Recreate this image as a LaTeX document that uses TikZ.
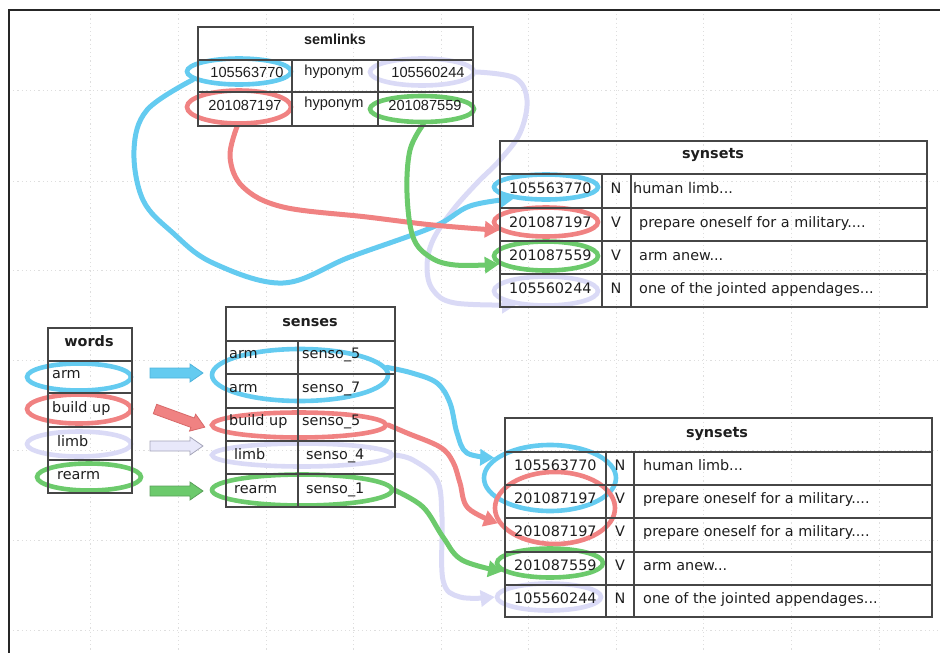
\documentclass[tikz,border=0pt]{standalone}
\usepackage{fontspec}
\setmainfont{DejaVu Sans}
\newfontfamily\arialf{Liberation Sans}
\usetikzlibrary{arrows.meta,shapes.geometric}
\definecolor{cy}{RGB}{100,203,240}
\definecolor{rd}{RGB}{240,130,130}
\definecolor{gr}{RGB}{108,202,108}
\definecolor{lv}{RGB}{218,218,246}
\definecolor{gridc}{RGB}{222,222,222}
\definecolor{tline}{RGB}{70,70,70}
\definecolor{txt}{RGB}{30,30,30}
\begin{document}
\begin{tikzpicture}[x=1pt,y=-1pt,
  every node/.style={font=\fontsize{14.4pt}{17pt}\selectfont, inner sep=0pt, text=txt},
  small/.style={font=\arialf\fontsize{14.6pt}{17pt}\selectfont},
  hdr/.style={font=\fontsize{14.4pt}{17pt}\selectfont\bfseries, anchor=base},
  shdr/.style={font=\arialf\fontsize{14.4pt}{17pt}\selectfont\bfseries, anchor=base},
  cell/.style={anchor=base west},
  ccell/.style={anchor=base},
  tbl/.style={draw=tline, line width=1.1pt, rectangle, fill=none},
  tl/.style={draw=tline, line width=1.1pt},
  gridl/.style={draw=gridc, line width=0.8pt, dash pattern=on 1.2pt off 3pt},
  ring/.style={draw=#1, ellipse, line width=4.6pt},
  conn/.style={draw=#1, line width=5pt, line cap=round, line join=round, -{Triangle[length=14pt,width=16pt]}},
  blk/.pic={\filldraw (0,-5) -- (40,-5) -- (40,-9) -- (53,0) -- (40,9) -- (40,5) -- (0,5) -- cycle;}
]
\useasboundingbox (0,0) rectangle (940,653);
% grid
\foreach \gx in {90,178,266,353,441,528,616,703,791,879} \draw[gridl] (\gx,10) -- (\gx,653);
\foreach \gy in {90,181,270,360,450,540,630} \draw[gridl] (9,\gy) -- (940,\gy);
% frame
\draw[line width=1.4pt, black!85] (9,653) -- (9,10) -- (940,10);

% block arrows
\pic[fill=cy, draw={rgb,255:red,80;green,180;blue,220}, line width=0.8pt] (ba1) at (150,373) {blk};
\pic[fill=rd, draw={rgb,255:red,215;green,105;blue,105}, line width=0.8pt, rotate=-20] (ba2) at (155,409) {blk};
\pic[fill={rgb,255:red,232;green,232;blue,250}, draw={rgb,255:red,165;green,165;blue,185}, line width=0.8pt] (ba3) at (150,446) {blk};
\pic[fill=gr, draw={rgb,255:red,90;green,160;blue,90}, line width=0.8pt] (ba4) at (150,491) {blk};

% ellipses: semlinks
\node[ring=cy, minimum width=104pt, minimum height=26pt] (sl1) at (239,71.5) {};
\node[ring=rd, minimum width=104pt, minimum height=33pt] (sl2) at (239,107) {};
\node[ring=lv, minimum width=104pt, minimum height=27pt] (sl3) at (422,72) {};
\node[ring=gr, minimum width=104pt, minimum height=26pt] (sl4) at (422,109) {};
% ellipses: top synsets
\node[ring=cy, minimum width=104pt, minimum height=25pt] (ts1) at (546,187) {};
\node[ring=rd, minimum width=104pt, minimum height=29pt] (ts2) at (546,222) {};
\node[ring=gr, minimum width=104pt, minimum height=29pt] (ts3) at (546,256) {};
\node[ring=lv, minimum width=104pt, minimum height=29pt] (ts4) at (546,291) {};
% ellipses: words
\node[ring=cy, minimum width=104pt, minimum height=27pt] (wd1) at (79,377) {};
\node[ring=rd, minimum width=104pt, minimum height=29pt] (wd2) at (79,409) {};
\node[ring=lv, minimum width=104pt, minimum height=25pt] (wd3) at (79,444) {};
\node[ring=gr, minimum width=104pt, minimum height=27pt] (wd4) at (89,477) {};
% ellipses: senses
\node[ring=cy, minimum width=176pt, minimum height=52pt] (se1) at (300,375) {};
\node[ring=rd, minimum width=174pt, minimum height=25pt] (se2) at (299,425) {};
\node[ring=lv, minimum width=180pt, minimum height=23pt] (se3) at (302,455) {};
\node[ring=gr, minimum width=180pt, minimum height=31pt] (se4) at (302,490) {};
% ellipses: bottom synsets
\node[ring=cy, minimum width=132pt, minimum height=66pt] (bs1) at (550,478) {};
\node[ring=rd, minimum width=120pt, minimum height=72pt] (bs2) at (555,508) {};
\node[ring=gr, minimum width=106pt, minimum height=29pt] (bs3) at (550,563) {};
\node[ring=lv, minimum width=104pt, minimum height=27pt] (bs4) at (549,597) {};

% connectors top
\draw[conn=lv] plot[smooth, tension=0.6] coordinates {(sl3.east) (515,78) (527,100) (520,133) (500,160) (477,183) (453,210) (433,240) (427,267) (433,290) (455,303) (ts4.205)};
\draw[conn=cy] plot[smooth, tension=0.6] coordinates {(sl1.190) (147,110) (134,150) (143,200) (173,233) (213,263) (283,283) (350,257) (433,227) (470,206) (ts1.200)};
\draw[conn=rd] plot[smooth, tension=0.6] coordinates {(sl2.265) (230,157) (243,187) (283,207) (367,217) (433,225) (ts2.190)};
\draw[conn=gr] plot[smooth, tension=0.6] coordinates {(sl4.275) (410,150) (407,193) (413,237) (430,257) (455,265) (ts3.190)};
% connectors bottom
\draw[conn=lv] plot[smooth, tension=0.6] coordinates {(se3.east) (413,460) (437,480) (442,517) (443,580) (460,597) (bs4.180)};
\draw[conn=cy] plot[smooth, tension=0.6] coordinates {(se1.5) (412,373) (437,383) (450,403) (457,433) (467,453) (bs1.160)};
\draw[conn=rd] plot[smooth, tension=0.6] coordinates {(se2.east) (407,433) (440,447) (453,462) (460,483) (468,508) (bs2.195)};
\draw[conn=gr] plot[smooth, tension=0.6] coordinates {(se4.east) (423,507) (443,537) (462,560) (bs3.190)};

% ---- table semlinks
\node[tbl, minimum width=275pt, minimum height=99pt] (semlinks) at (335.5,76.5) {};
\draw[tl] (198,60) -- (473,60) (198,92) -- (473,92) (292,60) -- (292,126) (378,60) -- (378,126);
\node[shdr] (slh) at (335,44.5) {semlinks};
\node[ccell, small] (sla1) at (247,77) {105563770};
\node[ccell, small] (slb1) at (334,75) {hyponym};
\node[ccell, small] (slc1) at (428,77) {105560244};
\node[ccell, small] (sla2) at (245,110) {201087197};
\node[ccell, small] (slb2) at (334,107) {hyponym};
\node[ccell, small] (slc2) at (425,110) {201087559};

% ---- table synsets (top)
\node[tbl, minimum width=427pt, minimum height=166pt] (synA) at (713.5,224) {};
\draw[tl] (500,174) -- (927,174) (500,208) -- (927,208) (500,241) -- (927,241) (500,274) -- (927,274) (602,174) -- (602,307) (631,174) -- (631,307);
\node[hdr] (tsh) at (713,158) {synsets};
\node[cell] (tsa1) at (509,193) {105563770};
\node[ccell] (tsb1) at (616,193) {N};
\node[cell] (tsc1) at (633,193) {human limb...};
\node[cell] (tsa2) at (509,227) {201087197};
\node[ccell] (tsb2) at (616,227) {V};
\node[cell] (tsc2) at (639,227) {prepare oneself for a military....};
\node[cell] (tsa3) at (509,260) {201087559};
\node[ccell] (tsb3) at (616,260) {V};
\node[cell] (tsc3) at (639,260) {arm anew...};
\node[cell] (tsa4) at (509,293) {105560244};
\node[ccell] (tsb4) at (616,293) {N};
\node[cell] (tsc4) at (639,293) {one of the jointed appendages...};

% ---- table words
\node[tbl, minimum width=84pt, minimum height=165pt] (words) at (90,410.5) {};
\draw[tl] (48,361) -- (132,361) (48,393) -- (132,393) (48,427) -- (132,427) (48,460) -- (132,460);
\node[hdr] (wdh) at (89,346) {words};
\node[cell] (wda) at (52,378) {arm};
\node[cell] (wdb) at (52,412) {build up};
\node[cell] (wdc) at (57,446) {limb};
\node[cell] (wdd) at (57,479) {rearm};

% ---- table senses
\node[tbl, minimum width=169pt, minimum height=200pt] (senses) at (310.5,407) {};
\draw[tl] (226,341) -- (395,341) (226,374) -- (395,374) (226,408) -- (395,408) (226,441) -- (395,441) (226,474) -- (395,474) (298,341) -- (298,507);
\node[hdr] (seh) at (310,326) {senses};
\node[cell] (sea1) at (229,358) {arm};
\node[cell] (seb1) at (302,358) {senso\_5};
\node[cell] (sea2) at (229,392) {arm};
\node[cell] (seb2) at (302,392) {senso\_7};
\node[cell] (sea3) at (229,425) {build up};
\node[cell] (seb3) at (302,425) {senso\_5};
\node[cell] (sea4) at (234,459) {limb};
\node[cell] (seb4) at (306,459) {senso\_4};
\node[cell] (sea5) at (234,493) {rearm};
\node[cell] (seb5) at (306,493) {senso\_1};

% ---- table synsets (bottom)
\node[tbl, minimum width=427pt, minimum height=199pt] (synB) at (718.5,517.5) {};
\draw[tl] (505,452) -- (932,452) (505,485) -- (932,485) (505,518) -- (932,518) (505,552) -- (932,552) (505,585) -- (932,585) (606,452) -- (606,617) (634,452) -- (634,617);
\node[hdr] (bsh) at (717,437) {synsets};
\node[cell] (bsa1) at (514,470) {105563770};
\node[ccell] (bsb1) at (620,470) {N};
\node[cell] (bsc1) at (643,470) {human limb...};
\node[cell] (bsa2) at (514,503) {201087197};
\node[ccell] (bsb2) at (620,503) {V};
\node[cell] (bsc2) at (643,503) {prepare oneself for a military....};
\node[cell] (bsa3) at (514,536) {201087197};
\node[ccell] (bsb3) at (620,536) {V};
\node[cell] (bsc3) at (643,536) {prepare oneself for a military....};
\node[cell] (bsa4) at (514,570) {201087559};
\node[ccell] (bsb4) at (620,570) {V};
\node[cell] (bsc4) at (643,570) {arm anew...};
\node[cell] (bsa5) at (514,603) {105560244};
\node[ccell] (bsb5) at (620,603) {N};
\node[cell] (bsc5) at (643,603) {one of the jointed appendages...};
\end{tikzpicture}
\end{document}
